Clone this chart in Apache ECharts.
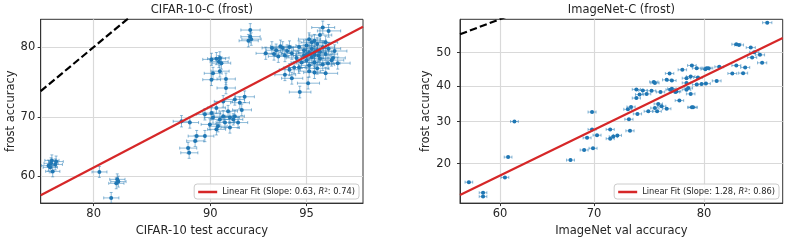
<!DOCTYPE html>
<html><head><meta charset="utf-8">
<script src="https://cdn.jsdelivr.net/npm/echarts@6/dist/echarts.min.js"></script>
<style>html,body{margin:0;padding:0;background:#fff}#c{width:789px;height:242px}</style>
</head><body><div id="c"></div>
<script>
// ---- Data (accuracies in %) ----
const cifarTest = [75.2,75.7,75.1,75.4,74.9,75.3,75.8,80.6,82.4,82.3,
 82.5,81.8,87.96,88.58,89.07,88.96,89.64,88.45,88.53,92.4,
 92.4,92.3,92.45,90.62,90.08,90.56,90.4,90.72,90.18,90.62,
 90.08,91.0,91.0,92.09,91.82,91.53,90.83,90.4,91.13,91.53,
 91.24,90.83,90.62,90.18,90.08,90.5,91.24,91.72,90.94,91.44,
 89.97,90.4,91.93,89.64,
 93.2,93.5,93.7,94.0,94.2,93.9,94.4,94.1,93.6,94.3,
 93.8,95.6,95.8,95.5,95.3,95.1,95.7,95.0,95.2,95.4,
 95.1,95.3,95.5,95.6,95.4,94.9,95.2,95.0,95.5,95.7,
 95.8,95.3,95.6,94.8,95.1,94.9,95.4,95.9,96.0,95.2,
 94.7,94.3,94.5,94.1,94.4,95.06,95.3,95.7,95.1,95.78,
 96.1,95.95,94.73,94.7,95.0,95.3,95.45,94.6];
const cifarFrost = [62.3,62.1,61.6,60.9,61.9,62.8,62.6,60.8,59.5,58.8,
 59.1,56.2,69.3,69.1,66.9,66.1,66.9,64.9,64.1,82.1,
 81.3,80.8,81.0,78.6,78.4,78.1,78.5,77.9,76.5,76.8,
 75.6,75.7,74.4,73.1,72.2,72.7,72.4,71.4,70.9,70.1,
 69.9,70.1,69.6,69.9,70.6,68.5,68.3,69.1,69.1,69.6,
 68.8,68.0,71.1,70.4,
 79.2,79.9,79.6,79.9,79.5,80.1,79.2,78.9,79.1,80.0,
 78.8,82.4,82.0,81.5,80.8,81.0,80.6,80.2,79.8,79.6,
 79.3,79.0,79.4,80.0,80.4,79.6,78.7,78.3,78.5,79.1,
 79.8,78.0,77.7,78.0,77.6,78.9,77.2,78.3,79.5,80.6,
 80.0,77.0,77.3,76.3,75.8,75.1,76.6,76.5,76.8,77.9,
 77.9,78.6,73.8,77.3,79.0,79.3,78.9,78.6];
const inVal = [56.5,58.1,58.1,60.55,60.9,61.6,67.6,69.0,69.9,69.8,
 69.8,69.3,70.3,71.6,71.6,71.9,72.3,84.7,82.5,82.7,
 83.55,83.8,83.65,84.2,84.35,83.15,82.5,82.2,81.0,81.2,
 80.2,80.1,79.4,79.0,78.2,77.1,78.9,78.55,79.5,80.15,
 79.8,78.55,79.4,78.7,76.85,77.3,75.7,75.8,77.3,77.6,
 77.15,76.3,75.5,74.1,74.4,74.1,77.7,78.55,78.9,77.95,
 76.1,76.4,75.8,76.85,76.0,73.6,73.3,74.2,73.4,79.0,
 79.1,73.5,74.7,83.0,75.05,75.2,80.35];
const inFrost = [16.3,14.4,13.75,17.2,21.4,30.05,20.75,23.0,23.4,32.6,
 28.0,25.9,26.55,28.0,25.7,26.2,26.5,58.96,52.5,52.3,
 51.5,50.1,48.5,49.3,46.9,45.5,46.1,43.7,41.5,45.7,
 45.3,45.0,45.3,46.1,44.8,43.7,42.8,42.3,42.5,40.7,
 40.6,40.9,40.4,39.4,41.8,41.6,41.2,40.9,39.2,38.25,
 38.9,38.25,38.6,39.0,37.5,36.5,38.4,38.9,37.7,35.8,
 34.85,34.2,33.7,33.5,32.8,34.0,33.35,32.1,30.65,33.9,
 33.9,27.65,38.7,43.8,37.7,32.8,45.3];
// test-set sizes (for binomial 95% error bars)
const cifarN = [10000, 10000];
const inN = [50000, 250000];
// linear fits in probit space: [slope, intercept, R^2]
const cifarFit = [0.63, -0.236, 0.74];
const inFit = [1.28, -1.257, 0.86];
// axis limits (%) and ticks
const cifarXLim = [73.95, 96.84], cifarYLim = [55.27, 83.35];
const inXLim = [55.49, 85.73], inYLim = [12.69, 59.95];
const cifarXTicks = [80, 90, 95], cifarYTicks = [60, 70, 80];
const inXTicks = [60, 70, 80], inYTicks = [20, 30, 40, 50];
const titles = ['CIFAR-10-C (frost)', 'ImageNet-C (frost)'];
const xNames = ['CIFAR-10 test accuracy', 'ImageNet val accuracy'];
const yName = 'frost accuracy';

// ---- probit scale ----
function probit(p){
 const a=[-3.969683028665376e+01,2.209460984245205e+02,-2.759285104469687e+02,1.383577518672690e+02,-3.066479806614716e+01,2.506628277459239e+00];
 const b=[-5.447609879822406e+01,1.615858368580409e+02,-1.556989798598866e+02,6.680131188771972e+01,-1.328068155288572e+01];
 const c=[-7.784894002430293e-03,-3.223964580411365e-01,-2.400758277161838e+00,-2.549732539343734e+00,4.374664141464968e+00,2.938163982698783e+00];
 const d=[7.784695709041462e-03,3.224671290700398e-01,2.445134137142996e+00,3.754408661907416e+00];
 const pl=0.02425, ph=1-pl; let q,r;
 if(p<pl){q=Math.sqrt(-2*Math.log(p));return (((((c[0]*q+c[1])*q+c[2])*q+c[3])*q+c[4])*q+c[5])/((((d[0]*q+d[1])*q+d[2])*q+d[3])*q+1);}
 if(p<=ph){q=p-0.5;r=q*q;return (((((a[0]*r+a[1])*r+a[2])*r+a[3])*r+a[4])*r+a[5])*q/(((((b[0]*r+b[1])*r+b[2])*r+b[3])*r+b[4])*r+1);}
 q=Math.sqrt(-2*Math.log(1-p));return -(((((c[0]*q+c[1])*q+c[2])*q+c[3])*q+c[4])*q+c[5])/((((d[0]*q+d[1])*q+d[2])*q+d[3])*q+1);
}
const P = v => probit(v/100);
function ci(v, n){ const p=v/100, h=1.96*Math.sqrt(p*(1-p)/n); return [probit(p-h), probit(p+h)]; }
function rows(xs, ys, ns){
 return xs.map((x,i)=>{ const cx=ci(x,ns[0]), cy=ci(ys[i],ns[1]); return [P(x),P(ys[i]),cx[0],cx[1],cy[0],cy[1]]; });
}

const FONT = 'DejaVu Sans';
const TXT = '#262626';
const BLUE = '#1f77b4';
const grids = [
 {left:40.7, top:19.3, width:322.3, height:184.7},
 {left:460, top:19.3, width:322.7, height:184.7}
];
const panels = [
 {xs:cifarTest, ys:cifarFrost, n:cifarN, fit:cifarFit, xl:cifarXLim, yl:cifarYLim, xt:cifarXTicks, yt:cifarYTicks, ylm:5.5, yng:23},
 {xs:inVal, ys:inFrost, n:inN, fit:inFit, xl:inXLim, yl:inYLim, xt:inXTicks, yt:inYTicks, ylm:9, yng:24}
];
function fmt(ticks){ return v => { const t = ticks.find(t=>Math.abs(P(t)-v)<1e-6); return t==null?'':String(t); }; }

const option = {animation:false, backgroundColor:'#fff',
 title: titles.map((t,i)=>({text:t, left:grids[i].left+grids[i].width/2, top:4.5, textAlign:'center', padding:0,
   textStyle:{fontSize:11.5, fontWeight:'normal', color:TXT, fontFamily:FONT}})),
 grid: grids.map(g=>Object.assign({show:true, borderColor:'#333', borderWidth:1, backgroundColor:'transparent'}, g)),
 xAxis: panels.map((p,i)=>({type:'value', gridIndex:i, min:P(p.xl[0]), max:P(p.xl[1]),
   name:xNames[i], nameLocation:'middle', nameGap:19, nameTextStyle:{fontSize:11.5, color:TXT, fontFamily:FONT},
   axisLine:{show:true, onZero:false, lineStyle:{color:'#333'}},
   axisTick:{show:true, length:3, customValues:p.xt.map(P), lineStyle:{color:'#333'}},
   axisLabel:{customValues:p.xt.map(P), formatter:fmt(p.xt), fontSize:11.5, color:TXT, fontFamily:FONT, margin:5},
   splitLine:{show:true, lineStyle:{color:'#d9d9d9', width:1.2}}})),
 yAxis: panels.map((p,i)=>({type:'value', gridIndex:i, min:P(p.yl[0]), max:P(p.yl[1]),
   name:yName, nameLocation:'middle', nameGap:p.yng, nameTextStyle:{fontSize:11.5, color:TXT, fontFamily:FONT},
   axisLine:{show:true, onZero:false, lineStyle:{color:'#333'}},
   axisTick:{show:true, length:3, customValues:p.yt.map(P), lineStyle:{color:'#333'}},
   axisLabel:{customValues:p.yt.map(P), formatter:fmt(p.yt), fontSize:11.5, color:TXT, fontFamily:FONT, margin:p.ylm},
   splitLine:{show:true, lineStyle:{color:'#d9d9d9', width:1.2}}})),
 legend: panels.map((p,i)=>({data:['fit'+i], right: i===0 ? 789-359 : 10, bottom:43,
   itemWidth:19, itemHeight:2.5, itemGap:5, icon:'rect', padding:[3,4,3,4],
   borderColor:'#cccccc', borderWidth:1, borderRadius:3, backgroundColor:'rgba(255,255,255,0.85)',
   formatter: () => '{t|Linear Fit (Slope: '+p.fit[0].toFixed(2)+', }{i|R}{s|2}{t|: '+p.fit[2].toFixed(2)+')}',
   textStyle:{color:TXT, fontFamily:FONT, fontSize:8.3,
     rich:{t:{fontSize:8.3, fontFamily:FONT, color:TXT}, i:{fontSize:8.3, fontStyle:'italic', fontFamily:FONT, color:TXT},
           s:{fontSize:5.8, fontFamily:FONT, color:TXT, verticalAlign:'top', lineHeight:10}}}})),
 series: []
};
panels.forEach((p,i)=>{
 const x0=P(p.xl[0]), x1=P(p.xl[1]);
 option.series.push({type:'line', xAxisIndex:i, yAxisIndex:i, data:[[x0,x0],[x1,x1]], symbol:'none', clip:true, silent:true,
   lineStyle:{color:'#000', width:2.2, type:[7.4,3.2]}, z:2});
 option.series.push({type:'custom', xAxisIndex:i, yAxisIndex:i, data:rows(p.xs,p.ys,p.n), clip:true, silent:true, z:3,
   encode:{x:0, y:1},
   renderItem:(params, api)=>{
     const c=api.coord([api.value(0),api.value(1)]);
     const xl=api.coord([api.value(2),api.value(1)])[0], xh=api.coord([api.value(3),api.value(1)])[0];
     const yl=api.coord([api.value(0),api.value(4)])[1], yh=api.coord([api.value(0),api.value(5)])[1];
     const st={stroke:'rgba(31,119,180,0.5)', lineWidth:1}; const k=1.5;
     return {type:'group', children:[
       {type:'line', shape:{x1:xl,y1:c[1],x2:xh,y2:c[1]}, style:st},
       {type:'line', shape:{x1:xl,y1:c[1]-k,x2:xl,y2:c[1]+k}, style:st},
       {type:'line', shape:{x1:xh,y1:c[1]-k,x2:xh,y2:c[1]+k}, style:st},
       {type:'line', shape:{x1:c[0],y1:yl,x2:c[0],y2:yh}, style:st},
       {type:'line', shape:{x1:c[0]-k,y1:yl,x2:c[0]+k,y2:yl}, style:st},
       {type:'line', shape:{x1:c[0]-k,y1:yh,x2:c[0]+k,y2:yh}, style:st}
     ]};
   }});
 option.series.push({type:'scatter', xAxisIndex:i, yAxisIndex:i, data:p.xs.map((x,j)=>[P(x),P(p.ys[j])]),
   symbol:'circle', symbolSize:4, itemStyle:{color:BLUE, opacity:1}, silent:true, z:4});
 option.series.push({type:'line', name:'fit'+i, xAxisIndex:i, yAxisIndex:i, color:'#d62728',
   data:[[x0, p.fit[0]*x0+p.fit[1]],[x1, p.fit[0]*x1+p.fit[1]]], symbol:'none', clip:true, silent:true,
   lineStyle:{color:'#d62728', width:2.2}, itemStyle:{color:'#d62728'}, z:5});
});
const chart = echarts.init(document.getElementById('c'), null, {renderer:'canvas'});
chart.setOption(option);
</script></body></html>
